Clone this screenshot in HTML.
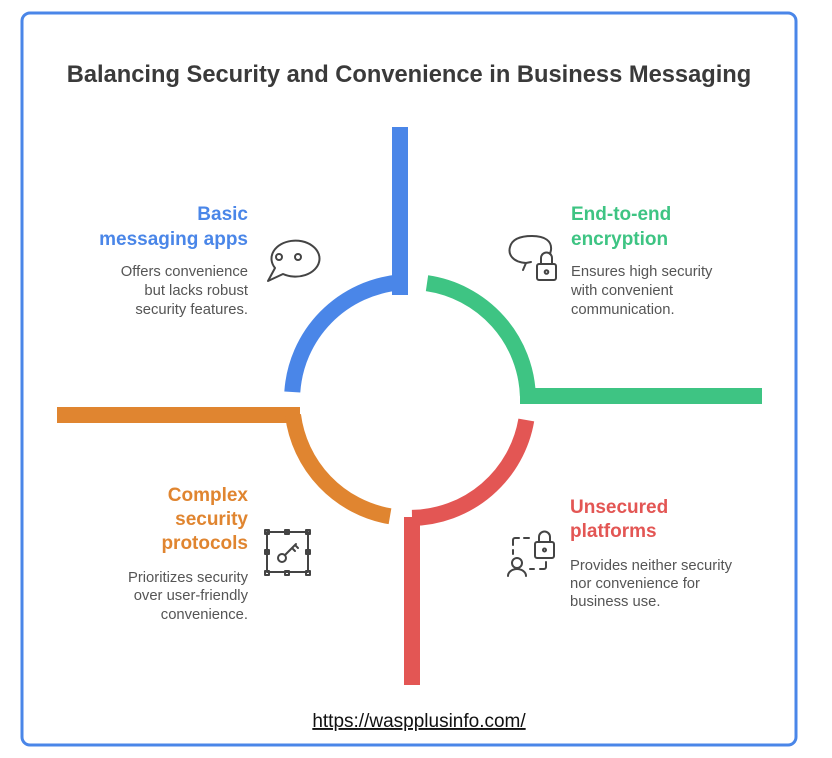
<!DOCTYPE html>
<html><head><style>
html,body{margin:0;padding:0;background:#fff;}
svg{display:block;}
text{font-family:"Liberation Sans",Arial,sans-serif;}
.h{font-weight:bold;font-size:19px;}
.d{font-size:14.8px;fill:#555;}
</style></head><body>
<svg width="832" height="758" viewBox="0 0 832 758" xmlns="http://www.w3.org/2000/svg">
<rect x="0" y="0" width="832" height="758" fill="#fff"/>
<rect x="22" y="13" width="774" height="732" rx="8" fill="none" stroke="#4a86e8" stroke-width="3"/>
<text x="409" y="82" text-anchor="middle" font-weight="bold" font-size="23.7" fill="#3a3a3a">Balancing Security and Convenience in Business Messaging</text>

<g fill="none" stroke-width="16" stroke-linecap="butt">
<path d="M400 127 L400 295" stroke="#4a86e8"/>
<path d="M400 282.4 A118 118 0 0 0 292.3 392" stroke="#4a86e8"/>
<path d="M427 283.2 A118 118 0 0 1 527.9 396" stroke="#3ec483"/>
<path d="M520 396 L762 396" stroke="#3ec483"/>
<path d="M57 415 L300 415" stroke="#e08530"/>
<path d="M293 415 A118 118 0 0 0 390 516.3" stroke="#e08530"/>
<path d="M412 517.9 A118 118 0 0 0 526.3 420" stroke="#e35654"/>
<path d="M412 517 L412 685" stroke="#e35654"/>
</g>

<text class="h" x="248" y="220" text-anchor="end" fill="#4a86e8">Basic</text>
<text class="h" x="248" y="245" text-anchor="end" fill="#4a86e8">messaging apps</text>
<text class="d" x="248" y="276" text-anchor="end">Offers convenience</text>
<text class="d" x="248" y="295" text-anchor="end">but lacks robust</text>
<text class="d" x="248" y="314" text-anchor="end">security features.</text>

<text class="h" x="571" y="220" fill="#3ec483">End-to-end</text>
<text class="h" x="571" y="245" fill="#3ec483">encryption</text>
<text class="d" x="571" y="276">Ensures high security</text>
<text class="d" x="571" y="295">with convenient</text>
<text class="d" x="571" y="314">communication.</text>

<text class="h" x="248" y="501" text-anchor="end" fill="#e08530">Complex</text>
<text class="h" x="248" y="525" text-anchor="end" fill="#e08530">security</text>
<text class="h" x="248" y="549" text-anchor="end" fill="#e08530">protocols</text>
<text class="d" x="248" y="582" text-anchor="end">Prioritizes security</text>
<text class="d" x="248" y="600" text-anchor="end">over user-friendly</text>
<text class="d" x="248" y="619" text-anchor="end">convenience.</text>

<text class="h" x="570" y="513" fill="#e35654">Unsecured</text>
<text class="h" x="570" y="537" fill="#e35654">platforms</text>
<text class="d" x="570" y="570">Provides neither security</text>
<text class="d" x="570" y="588">nor convenience for</text>
<text class="d" x="570" y="606">business use.</text>

<text x="419" y="727" text-anchor="middle" font-size="19" fill="#111" text-decoration="underline">https://waspplusinfo.com/</text>

<g fill="none" stroke="#444" stroke-width="2" stroke-linecap="round" stroke-linejoin="round">
<path d="M268 281 L275 268 A24 18 0 1 1 283 274 Z"/>
<circle cx="279" cy="257" r="3"/><circle cx="298" cy="257" r="3"/>
<path d="M523 270 L526 263 C512 262 508 254 510 247 C512 239 520 236 532 236 C545 236 552 241 551 250 L550 254"/>
<path d="M526 263 L531 262"/>
<rect x="537" y="264" width="19" height="16" rx="2"/>
<path d="M541 264 V258 A5.5 5.5 0 0 1 552 258 V264"/>
<circle cx="546.5" cy="272" r="1.8"/>
<rect x="267" y="532" width="41" height="40"/>
<rect x="265" y="530" width="4" height="4"/><rect x="285" y="530" width="4" height="4"/><rect x="306" y="530" width="4" height="4"/>
<rect x="265" y="550" width="4" height="4"/><rect x="306" y="550" width="4" height="4"/>
<rect x="265" y="571" width="4" height="4"/><rect x="285" y="571" width="4" height="4"/><rect x="306" y="571" width="4" height="4"/>
<circle cx="282" cy="558" r="4"/>
<path d="M285 555 L296 544 M292 548 L295 551 M295 545 L298 548"/>
<path d="M513 545 V540 A2 2 0 0 1 515 538 H519 M524 538 H529"/>
<path d="M513 550 V554"/>
<rect x="535" y="542" width="19" height="16" rx="2"/>
<path d="M539 542 V537 A5.5 5.5 0 0 1 550 537 V542"/>
<circle cx="544.5" cy="550" r="1.5"/>
<path d="M546 562 V567 A2 2 0 0 1 544 569 H540 M534 569 H530"/>
<circle cx="517" cy="563" r="5"/>
<path d="M508 576 A9 7 0 0 1 526 576"/>
</g>
</svg>
</body></html>
